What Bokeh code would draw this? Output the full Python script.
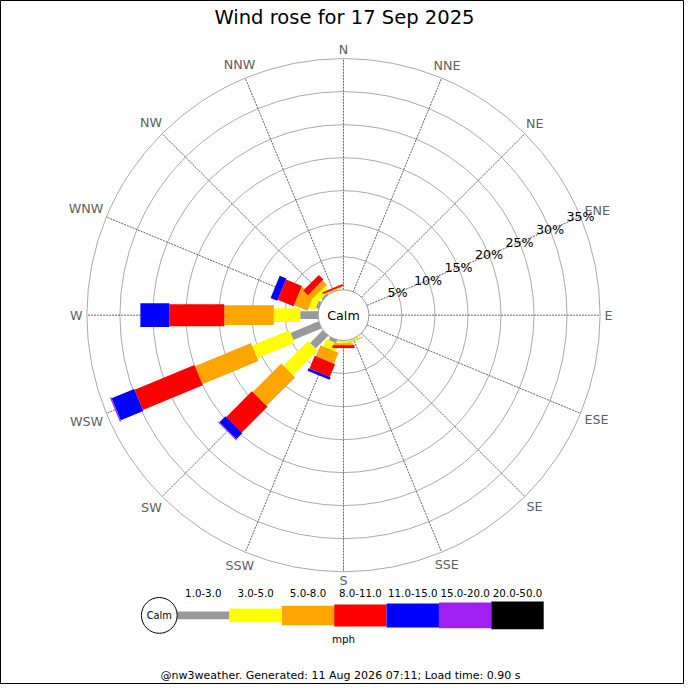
import numpy as np
from bokeh.plotting import figure
from bokeh.models import Range1d, ColumnDataSource
from bokeh.core.properties import value
from bokeh.embed import file_html
from bokeh.resources import INLINE

# ---------------- data ----------------
title_text = "Wind rose for 17 Sep 2025"
footer_text = "@nw3weather. Generated: 11 Aug 2026 07:11; Load time: 0.90 s"
calm_label = "Calm"
speed_unit = "mph"
directions = ["N", "NNE", "NE", "ENE", "E", "ESE", "SE", "SSE",
              "S", "SSW", "SW", "WSW", "W", "WNW", "NW", "NNW"]
speed_bins = ["1.0-3.0", "3.0-5.0", "5.0-8.0", "8.0-11.0",
              "11.0-15.0", "15.0-20.0", "20.0-50.0"]
ring_pcts = [5, 10, 15, 20, 25, 30, 35]

# percentage of time, per direction (N, NNE, ... NNW), one list per speed class
pct_1_3 = [0, 0, 0, 0, 0, 0, 0, 0.05, 0.1, 0.5, 2.7, 4.6, 2.7, 0.45, 0.3, 0.05]
pct_3_5 = [0, 0, 0, 0, 0, 0, 0, 0.2, 0.3, 1.2, 5.3, 6.1, 4.0, 1.0, 0.9, 0.1]
pct_5_8 = [0, 0, 0, 0, 0, 0, 0, 0.15, 0.3, 1.8, 6.1, 9.2, 7.5, 2.2, 0.9, 0.15]
pct_8_11 = [0, 0, 0, 0, 0, 0, 0, 0, 0.45, 2.1, 5.5, 9.8, 8.3, 2.6, 1.0, 0.25]
pct_11_15 = [0, 0, 0, 0, 0, 0, 0, 0, 0, 0.4, 1.3, 3.7, 4.4, 1.1, 0, 0]
pct_15_20 = [0, 0, 0, 0, 0, 0, 0, 0, 0, 0, 0.15, 0.2, 0, 0, 0, 0]
pct_20_50 = [0] * 16

series = [pct_1_3, pct_3_5, pct_5_8, pct_8_11, pct_11_15, pct_15_20, pct_20_50]

# ---------------- styles ----------------
colors = ["#999999", "#ffff00", "#ffa500", "#ff0000", "#0000ff", "#a020f0", "#000000"]
bar_widths = [8, 14, 20, 22.5, 24.5, 26.5, 28.5]   # tangential width (design px)
R0 = 26.0        # calm circle radius (design px)
K = 6.76         # design px per percent
FONT = value("DejaVu Sans")

W = H = 684
D = 700                    # design canvas size
S = W / D                  # design px -> screen px
CX, CY = 351, 322          # rose centre in design px


def fs(px):
    return value(f"{px * S:.2f}px")


p = figure(width=W, height=H, output_backend="svg", toolbar_location=None,
           x_range=Range1d(-CX, D - CX), y_range=Range1d(CY - D, CY),
           min_border=0, x_axis_location=None, y_axis_location=None)
p.grid.visible = False
p.outline_line_color = "black"
p.outline_line_width = 1
p.background_fill_color = "white"
p.border_fill_color = "white"

theta = np.deg2rad(np.arange(16) * 22.5)
sx, sy = np.sin(theta), np.cos(theta)
r_max = R0 + K * ring_pcts[-1]

# rings
rings = [R0 + K * v for v in ring_pcts]
p.circle(x=[0] * len(rings), y=[0] * len(rings), radius=rings,
         fill_color=None, line_color="#aaaaaa", line_width=1)

# spokes
p.segment(x0=R0 * sx, y0=R0 * sy, x1=r_max * sx, y1=r_max * sy,
          line_color="#505050", line_width=0.9, line_dash="2 1")

# stacked bars
xs, ys, ws, hs, angs, cols = [], [], [], [], [], []
cum = np.zeros(16)
for ci, vals in enumerate(series):
    vals = np.array(vals, dtype=float)
    for i in range(16):
        v = vals[i]
        if v <= 0:
            continue
        r_in = R0 + K * cum[i]
        r_out = R0 + K * (cum[i] + v)
        rc = 0.5 * (r_in + r_out)
        xs.append(rc * sx[i]); ys.append(rc * sy[i])
        ws.append(r_out - r_in); hs.append(bar_widths[ci])
        angs.append(np.pi / 2 - theta[i]); cols.append(colors[ci])
    cum += vals
src = ColumnDataSource(dict(x=xs, y=ys, w=ws, h=hs, a=angs, c=cols))
p.rect(x="x", y="y", width="w", height="h", angle="a", fill_color="c",
       line_color=None, source=src)

# calm circle
p.circle(x=[0], y=[0], radius=R0, fill_color="white", line_color="#999999", line_width=1)
p.text(x=[0], y=[0], text=[calm_label], text_font=FONT, text_font_size=fs(13),
       text_align="center", text_baseline="middle", text_color="black")

# direction labels
char_w = {"N": 0.748, "E": 0.632, "S": 0.635, "W": 0.989}
lx, ly = [], []
for i, d in enumerate(directions):
    w = 13 * sum(char_w[ch] for ch in d)
    rl = 267 + abs(sx[i]) * w / 2 + abs(sy[i]) * 5
    lx.append(rl * sx[i]); ly.append(rl * sy[i])
p.text(x=lx, y=ly, text=directions, text_font=FONT, text_font_size=fs(13),
       text_align="center", text_baseline="middle", text_color="#5f5f5f")

# percent labels along ENE
ang_lab = np.deg2rad(67.5)
p.text(x=[r * np.sin(ang_lab) for r in rings], y=[r * np.cos(ang_lab) for r in rings],
       text=[f"{v}%" for v in ring_pcts], text_font=FONT, text_font_size=fs(13),
       text_align="center", text_baseline="middle", text_color="black")

# title
p.text(x=[352 - CX], y=[CY - 17], text=[title_text], text_font=FONT,
       text_font_size=fs(20), text_align="center", text_baseline="middle",
       text_color="black")

# legend
LY = CY - 629.3
seg_len = 53.6
x_start = 180.7 - CX
lgx = [x_start + seg_len * (i + 0.5) for i in range(len(speed_bins))]
p.rect(x=lgx, y=[LY] * len(lgx), width=seg_len, height=bar_widths,
       fill_color=colors, line_color=None)
p.circle(x=[162.5 - CX], y=[LY], radius=18.3, fill_color="white",
         line_color="black", line_width=1)
p.text(x=[162.5 - CX], y=[LY], text=[calm_label], text_font=FONT,
       text_font_size=fs(10), text_align="center", text_baseline="middle",
       text_color="black")
p.text(x=lgx, y=[CY - 606.7] * len(lgx), text=speed_bins, text_font=FONT,
       text_font_size=fs(10.5), text_align="center", text_baseline="middle",
       text_color="black")
p.text(x=[0], y=[CY - 653], text=[speed_unit], text_font=FONT,
       text_font_size=fs(10.5), text_align="center", text_baseline="middle",
       text_color="black")

# footer
p.text(x=[348 - CX], y=[CY - 691], text=[footer_text], text_font=FONT,
       text_font_size=fs(11.3), text_align="center", text_baseline="middle",
       text_color="black")

open("out.html", "w").write(file_html(p, INLINE))
